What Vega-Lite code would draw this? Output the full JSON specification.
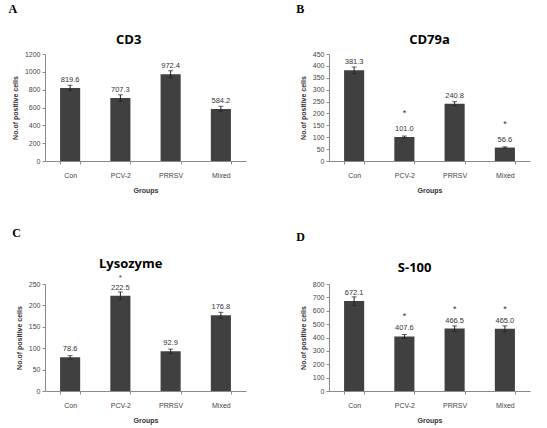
{
  "$schema": "https://vega.github.io/schema/vega-lite/v6.json",
  "padding": {"left": 8, "top": 3, "right": 5, "bottom": 2},
  "background": "white",
  "data": {"values": [
    {"marker": "CD3", "group": "Con", "value": 819.6, "err": 30, "sig": false},
    {"marker": "CD3", "group": "PCV-2", "value": 707.3, "err": 35, "sig": false},
    {"marker": "CD3", "group": "PRRSV", "value": 972.4, "err": 40, "sig": false},
    {"marker": "CD3", "group": "Mixed", "value": 584.2, "err": 30, "sig": false},
    {"marker": "CD79a", "group": "Con", "value": 381.3, "err": 14, "sig": false},
    {"marker": "CD79a", "group": "PCV-2", "value": 101.0, "err": 4, "sig": true},
    {"marker": "CD79a", "group": "PRRSV", "value": 240.8, "err": 9, "sig": false},
    {"marker": "CD79a", "group": "Mixed", "value": 56.6, "err": 3, "sig": true},
    {"marker": "Lysozyme", "group": "Con", "value": 78.6, "err": 4, "sig": false},
    {"marker": "Lysozyme", "group": "PCV-2", "value": 222.5, "err": 9, "sig": true},
    {"marker": "Lysozyme", "group": "PRRSV", "value": 92.9, "err": 5, "sig": false},
    {"marker": "Lysozyme", "group": "Mixed", "value": 176.8, "err": 7, "sig": false},
    {"marker": "S-100", "group": "Con", "value": 672.1, "err": 32, "sig": false},
    {"marker": "S-100", "group": "PCV-2", "value": 407.6, "err": 15, "sig": true},
    {"marker": "S-100", "group": "PRRSV", "value": 466.5, "err": 20, "sig": true},
    {"marker": "S-100", "group": "Mixed", "value": 465.0, "err": 22, "sig": true}
  ]},
  "config": {
    "view": {"stroke": null},
    "font": "Liberation Sans",
    "axis": {
      "grid": false,
      "labelFont": "Liberation Sans",
      "labelFontSize": 7,
      "labelColor": "#444",
      "domainColor": "#8a8a8a",
      "tickColor": "#8a8a8a",
      "tickSize": 3,
      "titleFont": "Liberation Sans",
      "titleFontSize": 7,
      "titleFontWeight": "bold",
      "titleColor": "#333"
    },
    "axisX": {"labelAngle": 0, "labelPadding": 7, "titlePadding": 8, "tickBand": "extent"},
    "axisY": {"titlePadding": 6, "format": "d"},
    "title": {"color": "#000"}
  },
  "spacing": 33,
  "vconcat": [
    {
      "spacing": 50,
      "hconcat": [
        {
          "title": {"text": "A", "anchor": "start", "font": "Liberation Serif", "fontSize": 12, "fontWeight": "bold", "offset": 18, "dx": -3},
          "vconcat": [
            {
              "title": {"text": "CD3", "font": "Open Sans", "fontSize": 13, "fontWeight": "bold", "offset": 3, "frame": "bounds"},
              "width": 201, "height": 107,
              "transform": [{"filter": "datum.marker === 'CD3'"}],
              "encoding": {
                "x": {"field": "group", "type": "nominal", "sort": ["Con", "PCV-2", "PRRSV", "Mixed"], "scale": {"paddingInner": 0.6, "paddingOuter": 0.3}, "title": "Groups"},
                "y": {"field": "value", "type": "quantitative", "scale": {"domain": [0, 1200]}, "axis": {"values": [0, 200, 400, 600, 800, 1000, 1200]}, "title": "No.of positive cells"}
              },
              "layer": [
                {"mark": {"type": "bar", "color": "#404040"}},
                {"mark": {"type": "errorbar", "ticks": {"size": 5, "color": "#222"}, "rule": {"color": "#222"}}, "encoding": {"yError": {"field": "err"}}},
                {"mark": {"type": "text", "baseline": "bottom", "dy": -4, "fontSize": 7.5, "color": "#333"}, "encoding": {"text": {"field": "value", "format": ".1f"}}},
                {"transform": [{"filter": "datum.sig"}], "mark": {"type": "text", "baseline": "bottom", "dy": -17, "fontSize": 9, "color": "#333", "text": "*"}}
              ]
            }
          ]
        },
        {
          "title": {"text": "B", "anchor": "start", "font": "Liberation Serif", "fontSize": 12, "fontWeight": "bold", "offset": 18, "dx": -3},
          "vconcat": [
            {
              "title": {"text": "CD79a", "font": "Open Sans", "fontSize": 13, "fontWeight": "bold", "offset": 3, "frame": "group"},
              "width": 201, "height": 107,
              "transform": [{"filter": "datum.marker === 'CD79a'"}],
              "encoding": {
                "x": {"field": "group", "type": "nominal", "sort": ["Con", "PCV-2", "PRRSV", "Mixed"], "scale": {"paddingInner": 0.6, "paddingOuter": 0.3}, "title": "Groups"},
                "y": {"field": "value", "type": "quantitative", "scale": {"domain": [0, 450]}, "axis": {"values": [0, 50, 100, 150, 200, 250, 300, 350, 400, 450]}, "title": "No.of positive cells"}
              },
              "layer": [
                {"mark": {"type": "bar", "color": "#404040"}},
                {"mark": {"type": "errorbar", "ticks": {"size": 5, "color": "#222"}, "rule": {"color": "#222"}}, "encoding": {"yError": {"field": "err"}}},
                {"mark": {"type": "text", "baseline": "bottom", "dy": -4, "fontSize": 7.5, "color": "#333"}, "encoding": {"text": {"field": "value", "format": ".1f"}}},
                {"transform": [{"filter": "datum.sig"}], "mark": {"type": "text", "baseline": "bottom", "dy": -19, "fontSize": 9, "color": "#333", "text": "*"}}
              ]
            }
          ]
        }
      ]
    },
    {
      "spacing": 50,
      "hconcat": [
        {
          "title": {"text": "C", "anchor": "start", "font": "Liberation Serif", "fontSize": 12, "fontWeight": "bold", "offset": 18, "dx": -3},
          "vconcat": [
            {
              "title": {"text": "Lysozyme", "font": "Open Sans", "fontSize": 13, "fontWeight": "bold", "offset": 3, "frame": "bounds"},
              "width": 201, "height": 107,
              "transform": [{"filter": "datum.marker === 'Lysozyme'"}],
              "encoding": {
                "x": {"field": "group", "type": "nominal", "sort": ["Con", "PCV-2", "PRRSV", "Mixed"], "scale": {"paddingInner": 0.6, "paddingOuter": 0.3}, "title": "Groups"},
                "y": {"field": "value", "type": "quantitative", "scale": {"domain": [0, 250]}, "axis": {"values": [0, 50, 100, 150, 200, 250]}, "title": "No.of positive cells"}
              },
              "layer": [
                {"mark": {"type": "bar", "color": "#404040"}},
                {"mark": {"type": "errorbar", "ticks": {"size": 5, "color": "#222"}, "rule": {"color": "#222"}}, "encoding": {"yError": {"field": "err"}}},
                {"mark": {"type": "text", "baseline": "bottom", "dy": -4, "fontSize": 7.5, "color": "#333"}, "encoding": {"text": {"field": "value", "format": ".1f"}}},
                {"transform": [{"filter": "datum.sig"}], "mark": {"type": "text", "baseline": "bottom", "dy": -14, "fontSize": 8, "color": "#333", "text": "*"}}
              ]
            }
          ]
        },
        {
          "title": {"text": "D", "anchor": "start", "font": "Liberation Serif", "fontSize": 12, "fontWeight": "bold", "offset": 18, "dx": -3},
          "vconcat": [
            {
              "title": {"text": "S-100", "font": "Open Sans", "fontSize": 13, "fontWeight": "bold", "offset": 5, "frame": "bounds"},
              "width": 201, "height": 107,
              "transform": [{"filter": "datum.marker === 'S-100'"}],
              "encoding": {
                "x": {"field": "group", "type": "nominal", "sort": ["Con", "PCV-2", "PRRSV", "Mixed"], "scale": {"paddingInner": 0.6, "paddingOuter": 0.3}, "title": "Groups"},
                "y": {"field": "value", "type": "quantitative", "scale": {"domain": [0, 800]}, "axis": {"values": [0, 100, 200, 300, 400, 500, 600, 700, 800]}, "title": "No.of positive cells"}
              },
              "layer": [
                {"mark": {"type": "bar", "color": "#404040"}},
                {"mark": {"type": "errorbar", "ticks": {"size": 5, "color": "#222"}, "rule": {"color": "#222"}}, "encoding": {"yError": {"field": "err"}}},
                {"mark": {"type": "text", "baseline": "bottom", "dy": -4, "fontSize": 7.5, "color": "#333"}, "encoding": {"text": {"field": "value", "format": ".1f"}}},
                {"transform": [{"filter": "datum.sig"}], "mark": {"type": "text", "baseline": "bottom", "dy": -15, "fontSize": 9, "color": "#333", "text": "*"}}
              ]
            }
          ]
        }
      ]
    }
  ]
}
